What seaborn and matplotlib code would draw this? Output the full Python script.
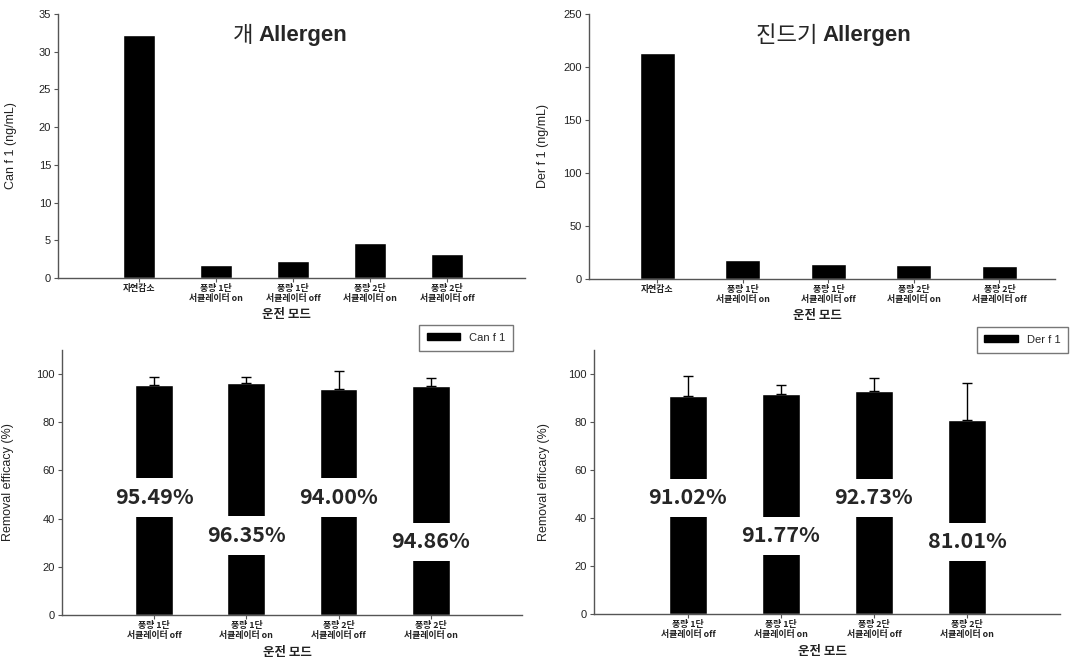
import numpy as np
import pandas as pd
import seaborn as sns
import matplotlib
matplotlib.use("Agg")
import matplotlib.pyplot as plt
from matplotlib.patches import Patch

# data
top_modes = ["자연감소", "풍량 1단\n서큘레이터 on", "풍량 1단\n서큘레이터 off",
             "풍량 2단\n서큘레이터 on", "풍량 2단\n서큘레이터 off"]
can_conc = [32.2, 1.7, 2.3, 4.6, 3.2]
der_conc = [213.0, 18.2, 14.4, 12.9, 12.6]

bottom_modes = ["풍량 1단\n서큘레이터 off", "풍량 1단\n서큘레이터 on",
                "풍량 2단\n서큘레이터 off", "풍량 2단\n서큘레이터 on"]
can_eff = [95.49, 96.35, 94.00, 94.86]
can_err = [3.4, 2.3, 7.4, 3.4]
der_eff = [91.02, 91.77, 92.73, 81.01]
der_err = [8.0, 3.8, 5.5, 15.4]

# where the percentage labels sit (data y)
can_label_y = [48.8, 33.0, 48.8, 30.4]
der_label_y = [48.4, 32.6, 48.4, 30.0]

sns.set_style("white")
plt.rcParams["font.family"] = ["Liberation Sans", "Noto Sans CJK KR", "DejaVu Sans"]

W, H = 1070, 659
fig = plt.figure(figsize=(W / 100, H / 100), dpi=100)


def px_axes(l, t, r, b):
    return fig.add_axes([l / W, 1 - b / H, (r - l) / W, (b - t) / H])


KR = ["Noto Sans CJK KR", "DejaVu Sans"]


def style_axes(ax, ylabel, ylabel_x, ylim, yticks, xlabel_y):
    for s in ["top", "right"]:
        ax.spines[s].set_visible(False)
    for s in ["left", "bottom"]:
        ax.spines[s].set_color("#555555")
        ax.spines[s].set_linewidth(1.0)
    ax.set_ylim(*ylim)
    ax.set_yticks(yticks)
    ax.tick_params(axis="both", direction="out", length=3, width=0.8,
                   color="#555555", left=True, bottom=True)
    ax.tick_params(axis="y", labelsize=8, labelcolor="#222222", pad=2)
    ax.tick_params(axis="x", pad=1.5)
    for lab in ax.get_xticklabels():
        lab.set_fontfamily(KR)
        lab.set_fontsize(6.4)
        lab.set_fontweight("bold")
        lab.set_linespacing(1.15)
        lab.set_color("#222222")
    ax.set_ylabel(ylabel, fontsize=9, color="#222222")
    ax.yaxis.set_label_coords(ylabel_x, 0.5)
    ax.set_xlabel("운전 모드", fontsize=9, fontweight="bold", family=KR, color="#222222")
    ax.xaxis.set_label_coords(0.49, xlabel_y)


def title(ax, x, kr):
    ax.text(x, 0.92, kr + " ", transform=ax.transAxes, ha="right", va="center",
            fontsize=16, family=KR)
    ax.text(x, 0.92, "Allergen", transform=ax.transAxes, ha="left", va="center",
            fontsize=16, fontweight="bold")


# top left: Can f 1 concentration
ax1 = px_axes(58, 14, 525, 278)
df1 = pd.DataFrame({"mode": top_modes, "conc": can_conc})
sns.barplot(data=df1, x="mode", y="conc", order=top_modes, color="black",
            saturation=1, width=0.42, ax=ax1)
ax1.set_xlim(-1.05, 5.01)
style_axes(ax1, "Can f 1 (ng/mL)", -0.088, (0, 35), range(0, 36, 5), -0.113)
title(ax1, 0.43, "개")

# top right: Der f 1 concentration
ax2 = px_axes(589, 14, 1055, 279)
df2 = pd.DataFrame({"mode": top_modes, "conc": der_conc})
sns.barplot(data=df2, x="mode", y="conc", order=top_modes, color="black",
            saturation=1, width=0.41, ax=ax2)
ax2.set_xlim(-0.8, 4.65)
style_axes(ax2, "Der f 1 (ng/mL)", -0.085, (0, 250), range(0, 251, 50), -0.113)
title(ax2, 0.5, "진드기")


def efficacy(ax, vals, errs, label_y, name, xlim, ylabel_x, legend_anchor):
    df = pd.DataFrame({"mode": bottom_modes, "eff": vals})
    sns.barplot(data=df, x="mode", y="eff", order=bottom_modes, color="black",
                saturation=1, width=0.41, ax=ax)
    x = np.arange(len(vals))
    ax.errorbar(x, vals, yerr=[np.zeros(len(vals)), errs], fmt="none",
                ecolor="black", elinewidth=1, capsize=3.6, capthick=1)
    for xi, v, ly in zip(x, vals, label_y):
        ax.text(xi, ly, f"{v:.2f}%", ha="center", va="center", fontsize=15.5,
                fontweight="bold", family=["Noto Sans CJK KR", "DejaVu Sans"],
                bbox=dict(boxstyle="square,pad=0.4", fc="white", ec="none"))
    ax.set_xlim(*xlim)
    style_axes(ax, "Removal efficacy (%)", ylabel_x, (0, 110), range(0, 101, 20),
               -0.117)
    ax.legend(handles=[Patch(facecolor="black", edgecolor="black", label=name)],
              loc="upper right", bbox_to_anchor=legend_anchor, fontsize=8,
              frameon=True, fancybox=False, edgecolor="#555555",
              handlelength=3.0, handleheight=0.6, borderpad=0.7,
              handletextpad=0.8, borderaxespad=0)


ax3 = px_axes(62, 350, 522, 615)
efficacy(ax3, can_eff, can_err, can_label_y, "Can f 1", (-1.0, 3.99), -0.105,
         (0.98, 1.094))

ax4 = px_axes(594, 350, 1060, 614)
efficacy(ax4, der_eff, der_err, der_label_y, "Der f 1", (-1.01, 4.0), -0.095,
         (1.017, 1.087))

fig.savefig("out.png", dpi=100)
